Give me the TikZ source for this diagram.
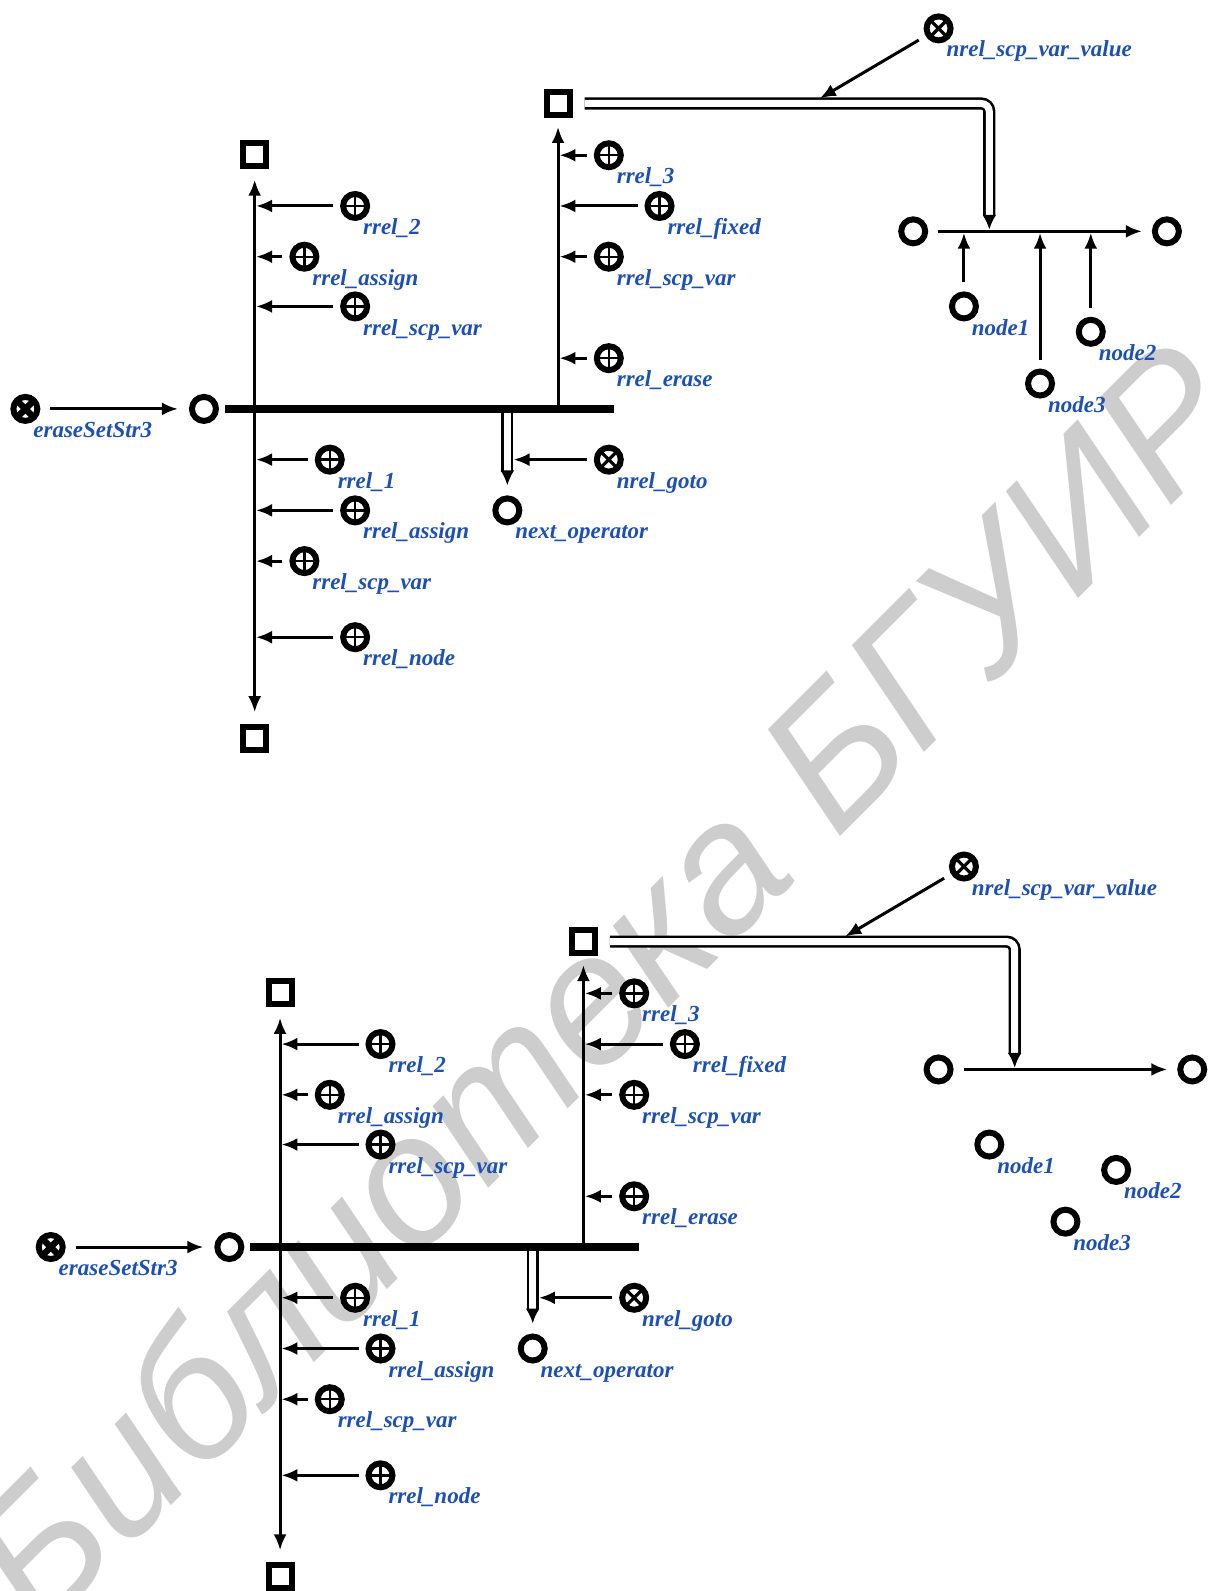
\documentclass[tikz,border=0pt]{standalone}
\usepackage{fontspec}
\usepackage{xcolor}
\usepackage{tikz}
\usetikzlibrary{arrows.meta,positioning}

\newfontfamily\lblfont{Liberation Serif}
\newfontfamily\wmfont{Liberation Sans}
\definecolor{lblblue}{RGB}{30,80,180}
\definecolor{wmgray}{RGB}{205,205,205}

% one operator graph, #1 is put in front of every node name
\newcommand{\opgraph}[1]{%
  \node[opnode,label={[lbl]below right:eraseSetStr3}] (#1op) at (25,403) {};
  \node[vnode] (#1v0) at (201,403) {};
  \coordinate (#1end) at (605,403);
  \coordinate (#1j1) at (251,403);
  \coordinate (#1j2) at (550,403);
  \coordinate (#1j3) at (500,403);
  \node[sqnode] (#1s1) at (251,152) {};
  \node[sqnode] (#1s2) at (251,728) {};
  \node[sqnode] (#1s3) at (550,102) {};
  \node[relnode,label={[lbl]below right:rrel\_2}] (#1r1) at (350,203) {};
  \node[relnode,label={[lbl]below right:rrel\_assign}] (#1r2) at (300,253) {};
  \node[relnode,label={[lbl]below right:rrel\_scp\_var}] (#1r3) at (350,302) {};
  \node[relnode,label={[lbl]below right:rrel\_1}] (#1r4) at (325,453) {};
  \node[relnode,label={[lbl]below right:rrel\_assign}] (#1r5) at (350,503) {};
  \node[relnode,label={[lbl]below right:rrel\_scp\_var}] (#1r6) at (300,553) {};
  \node[relnode,label={[lbl]below right:rrel\_node}] (#1r7) at (350,628) {};
  \node[relnode,label={[lbl]below right:rrel\_3}] (#1r8) at (600,153) {};
  \node[relnode,label={[lbl]below right:rrel\_fixed}] (#1r9) at (650,203) {};
  \node[relnode,label={[lbl]below right:rrel\_scp\_var}] (#1r10) at (600,253) {};
  \node[relnode,label={[lbl]below right:rrel\_erase}] (#1r11) at (600,353) {};
  \node[vnode,label={[lbl]below right:next\_operator}] (#1next) at (500,503) {};
  \node[nrelnode,label={[lbl]below right:nrel\_goto}] (#1goto) at (600,453) {};
  \node[nrelnode,label={[lbl]below right:nrel\_scp\_var\_value}] (#1val) at (925,28) {};
  \node[vnode] (#1c1) at (900,228) {};
  \node[vnode] (#1c2) at (1150,228) {};
  \coordinate (#1j4) at (975,228);
  \coordinate (#1j5) at (808,97);
  \node[vnode,label={[lbl]below right:node1}] (#1n1) at (950,302) {};
  \node[vnode,label={[lbl]below right:node2}] (#1n2) at (1075,327) {};
  \node[vnode,label={[lbl]below right:node3}] (#1n3) at (1025,378) {};
  % connectors
  \draw[arc,shorten <=5pt,shorten >=5.5pt] (#1op) -- (#1v0);
  \draw[bar,shorten <=3pt] (#1v0) -- (#1end);
  \draw[arc,shorten <=0pt,shorten >=5.5pt] (#1j1) -- (#1s1);
  \draw[arc,shorten <=0pt,shorten >=6pt] (#1j1) -- (#1s2);
  \draw[arc,shorten <=0pt,shorten >=4.5pt] (#1j2) -- (#1s3);
  \foreach \i in {1,...,7} \draw[arc] (#1r\i) -- (#1r\i -| #1j1);
  \foreach \i in {8,...,11} \draw[arc] (#1r\i) -- (#1r\i -| #1j2);
  \draw[dbl,shorten <=2pt,shorten >=5pt] (#1j3) -- (#1next);
  \draw[arc,shorten >=3.1pt] (#1goto) -- (#1goto -| #1j3);
  \draw[arc,shorten <=5pt,shorten >=5pt] (#1c1) -- (#1c2);
  \draw[dbl,shorten <=6pt,shorten >=0.8pt] (#1s3) -- (#1s3 -| #1j4) -- (#1j4);
  \draw[arc,shorten <=4pt,shorten >=0pt] (#1val) -- (#1j5);
}

\begin{document}
\begin{tikzpicture}[x=0.5076pt,y=-0.5076pt,
  vnode/.style={circle,draw,line width=3pt,fill=white,minimum size=12pt,inner sep=0pt},
  sqnode/.style={rectangle,draw,line width=3pt,fill=white,minimum size=11.5pt,inner sep=0pt},
  relnode/.style={vnode,path picture={
      \draw[line width=1.2pt] (path picture bounding box.north) -- (path picture bounding box.south)
        (path picture bounding box.west) -- (path picture bounding box.east);}},
  nrelnode/.style={vnode,path picture={
      \draw[line width=1.6pt] (path picture bounding box.north west) -- (path picture bounding box.south east)
        (path picture bounding box.north east) -- (path picture bounding box.south west);}},
  opnode/.style={vnode,path picture={
      \draw[line width=3.2pt] (path picture bounding box.north west) -- (path picture bounding box.south east)
        (path picture bounding box.north east) -- (path picture bounding box.south west);}},
  lbl/.style={font=\fontsize{11.5}{12}\lblfont\bfseries\itshape,text=lblblue,
    inner sep=0pt,text height=8pt,text depth=3pt,xshift=-1.5pt,yshift=-0.8pt},
  arc/.style={-{Latex[length=8pt,width=6.5pt]},line width=1.5pt,shorten <=3.5pt,shorten >=0.7pt},
  bar/.style={line width=4pt},
  dbl/.style={double,double distance=3.5pt,line width=1.3pt,rounded corners=4pt,
    -{Latex[length=7.5pt,width=7pt]}},
  wm/.style={font=\fontsize{92}{92}\wmfont\itshape,text=wmgray,rotate=45}
]
\useasboundingbox (0,0) rectangle (1194,1568);
\node[wm] (wmark) at (592,968) {Библиотека БГУИР};

\begin{scope}
  \opgraph{a}
  \draw[arc,shorten <=4.5pt] (an1) -- (an1 |- ac1);
  \draw[arc,shorten <=4.5pt] (an2) -- (an2 |- ac1);
  \draw[arc,shorten <=4.5pt] (an3) -- (an3 |- ac1);
\end{scope}

\begin{scope}[shift={(25,826)}]
  \opgraph{b}
\end{scope}
\end{tikzpicture}
\end{document}
